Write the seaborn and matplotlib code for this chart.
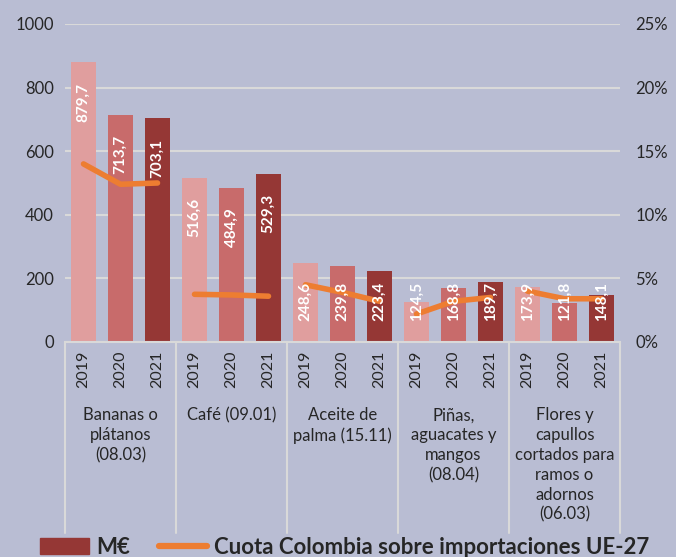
import numpy as np
import pandas as pd
import seaborn as sns
import matplotlib.pyplot as plt
from matplotlib.patches import Patch
from matplotlib.lines import Line2D

# datos
categorias = ["Bananas o\nplátanos\n(08.03)", "Café (09.01)", "Aceite de\npalma (15.11)",
              "Piñas,\naguacates y\nmangos\n(08.04)",
              "Flores y\ncapullos\ncortados para\nramos o\nadornos\n(06.03)"]
anios = ["2019", "2020", "2021"]
meur_2019 = [879.7, 516.6, 248.6, 124.5, 173.9]
meur_2020 = [713.7, 484.9, 239.8, 168.8, 121.8]
meur_2021 = [703.1, 529.3, 223.4, 189.7, 148.1]
cuota_2019 = [14.0, 3.75, 4.5, 2.2, 4.0]
cuota_2020 = [12.4, 3.7, 3.9, 3.2, 3.4]
cuota_2021 = [12.5, 3.6, 3.2, 3.5, 3.4]

bg = "#B9BDD3"
grid_c = "#D9D9D9"
bar_colors = ["#E09E9E", "#C86B6B", "#953735"]
orange = "#ED7D31"

sns.set_theme(style="white")
plt.rcParams["font.family"] = ["Lato", "DejaVu Sans"]

rows = []
for i, cat in enumerate(categorias):
    for j, (anio, vals, cuotas) in enumerate(zip(anios, [meur_2019, meur_2020, meur_2021],
                                                 [cuota_2019, cuota_2020, cuota_2021])):
        rows.append({"categoria": cat, "anio": anio, "meur": vals[i], "cuota": cuotas[i],
                     "xpos": i + (j - 1) / 3})
df = pd.DataFrame(rows)

fig = plt.figure(figsize=(6.76, 5.57), dpi=100, facecolor=bg)
ax = fig.add_axes([65 / 676, 1 - 342 / 557, 555 / 676, 318 / 557])
ax.set_facecolor(bg)

sns.barplot(data=df, x="categoria", y="meur", hue="anio", palette=bar_colors,
            width=1.0, gap=0.3, saturation=1, legend=False, linewidth=0, ax=ax)
ax.set_ylim(0, 1000)
ax.set_xlim(-0.5, len(categorias) - 0.5)
ax.set_yticks(np.arange(0, 1001, 200))
ax.yaxis.grid(True, color=grid_c, lw=1.5)
ax.set_axisbelow(True)
ax.set_xlabel("")
ax.set_ylabel("")
for s in ["top", "left", "right"]:
    ax.spines[s].set_visible(False)
ax.spines["bottom"].set_color(grid_c)
ax.spines["bottom"].set_linewidth(1.5)

# etiquetas de año bajo cada barra
ax.set_xticks(df["xpos"])
ax.set_xticklabels(df["anio"], rotation=90, fontsize=11.5)
ax.tick_params(axis="x", length=0, pad=6)
ax.tick_params(axis="y", length=0, labelsize=12, pad=8)

# separadores y nombres de categoria
trans = ax.get_xaxis_transform()
for k in range(len(categorias) + 1):
    ax.plot([k - 0.5, k - 0.5], [0, -0.60], transform=trans, color=grid_c,
            lw=1.5, clip_on=False)
for i, cat in enumerate(categorias):
    ax.text(i, -0.205, cat, transform=trans, ha="center", va="top", fontsize=12,
            linespacing=1.3)

# cuota en eje secundario
ax2 = ax.twinx()
sns.lineplot(data=df, x="xpos", y="cuota", units="categoria", estimator=None,
             color=orange, lw=4, solid_capstyle="round", ax=ax2)
ax2.set_ylim(0, 25)
ax2.set_yticks(np.arange(0, 26, 5))
ax2.set_yticklabels([f"{t}%" for t in range(0, 26, 5)])
ax2.tick_params(axis="y", length=0, labelsize=12, pad=11)
ax2.set_xlabel("")
ax2.set_ylabel("")
for s in ax2.spines.values():
    s.set_visible(False)
ax2.set_xlim(-0.5, len(categorias) - 0.5)

# valores dentro de las barras (encima de la linea)
for cont, vals in zip(ax.containers, [meur_2019, meur_2020, meur_2021]):
    for bar, v in zip(cont, vals):
        yc = max(v - 125, 128)
        ax2.text(bar.get_x() + bar.get_width() / 2, yc, f"{v:.1f}".replace(".", ","),
                 transform=ax.transData, rotation=90, ha="center", va="center",
                 color="white", fontsize=11, fontweight="bold", zorder=5)

handles = [Patch(color=bar_colors[2]), Line2D([0], [0], color=orange, lw=4.5)]
fig.legend(handles, ["M€", "Cuota Colombia sobre importaciones UE-27"],
           loc="center", bbox_to_anchor=(0.51, 1 - 547 / 557), ncol=2, frameon=False,
           prop={"weight": "bold", "size": 16}, handlelength=2.2, handletextpad=0.3,
           columnspacing=1.3, borderpad=0)

fig.savefig("out.png", dpi=100, facecolor=bg)
